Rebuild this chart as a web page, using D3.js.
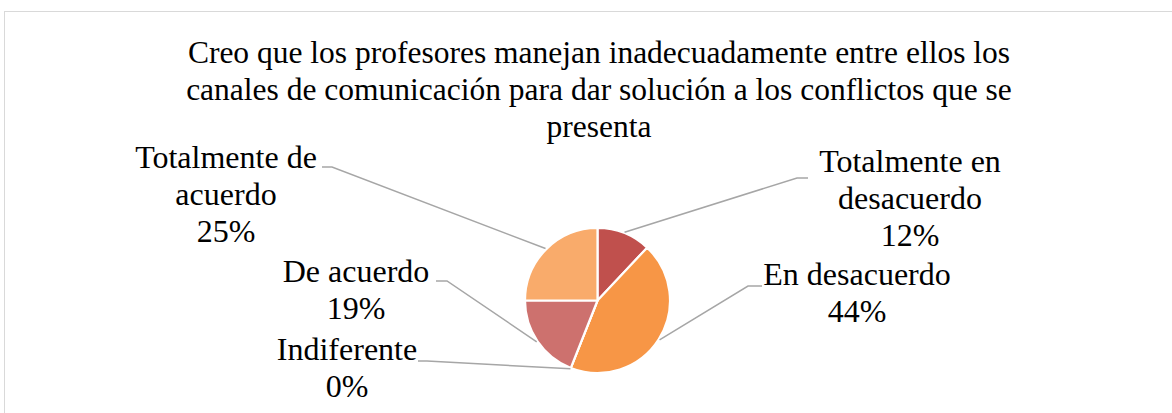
<!DOCTYPE html>
<html><head><meta charset="utf-8">
<script src="https://cdn.jsdelivr.net/npm/d3@7"></script>
<style>
html,body{margin:0;padding:0;background:#fff;}
</style></head>
<body>
<svg id="chart" width="1172" height="413"></svg>
<script>
const titleLines = ["Creo que los profesores manejan inadecuadamente entre ellos los",
  "canales de comunicación para dar solución a los conflictos que se",
  "presenta"];
const categories = ["Totalmente en desacuerdo","En desacuerdo","Indiferente","De acuerdo","Totalmente de acuerdo"];
const values = [12, 44, 0, 19, 25];
const colors = ["#C0504D","#F79646","#9BBB59","#CD716E","#F9AB6B"];
const labelLines = [["Totalmente en","desacuerdo","12%"],["En desacuerdo","44%"],["Indiferente","0%"],["De acuerdo","19%"],["Totalmente de","acuerdo","25%"]];
// layout: label centre x, first baseline y, elbow point
const labelPos = [[910,172],[857,285],[347,360],[356,282],[226,168]];
const elbows = [[797,178,808],[748,286,762],[427,361,418],[447,281,436],[332,167,322]];
const FONT = "'Liberation Serif', 'Times New Roman', Times, serif";

const svg = d3.select("#chart");
svg.append("rect").attr("x",4.5).attr("y",11.5).attr("width",1200).attr("height",500)
  .attr("fill","#fff").attr("stroke","#D9D9D9").attr("stroke-width",1);

const title = svg.append("text").attr("text-anchor","middle")
  .attr("font-family",FONT).attr("font-size",31.5).attr("fill","#000");
titleLines.forEach((t,i)=>title.append("tspan").attr("x",599).attr("y",63+i*37).text(t));

const cx=597.5, cy=300.5, r=72.5;
const pie = d3.pie().sort(null).value(d=>d)(values);
const arc = d3.arc().innerRadius(0).outerRadius(r);
const g = svg.append("g").attr("transform",`translate(${cx},${cy})`);
g.selectAll("path").data(pie).join("path").attr("d",arc)
  .attr("fill",(d,i)=>colors[i]).attr("stroke","#fff").attr("stroke-width",2.2).attr("stroke-linejoin","round");

pie.forEach((d,i)=>{
  const a=(d.startAngle+d.endAngle)/2;
  const px=cx+Math.sin(a)*(r+1), py=cy-Math.cos(a)*(r+1);
  const e=elbows[i];
  svg.append("polyline").attr("points",`${px},${py} ${e[0]},${e[1]} ${e[2]},${e[1]}`)
    .attr("fill","none").attr("stroke","#A6A6A6").attr("stroke-width",1.5);
  const t=svg.append("text").attr("text-anchor","middle")
    .attr("font-family",FONT).attr("font-size",32).attr("fill","#000");
  labelLines[i].forEach((l,j)=>t.append("tspan").attr("x",labelPos[i][0]).attr("y",labelPos[i][1]+j*37).text(l));
});
</script>
</body></html>
